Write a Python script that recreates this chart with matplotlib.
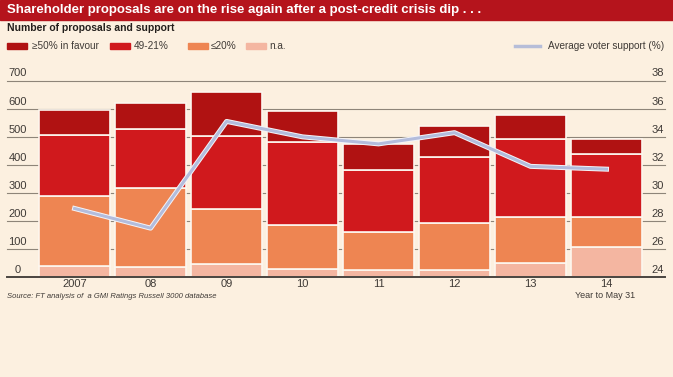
import matplotlib.pyplot as plt
import numpy as np
from matplotlib.patches import Rectangle
from matplotlib.lines import Line2D
import matplotlib.patheffects as pe

years = ["2007", "08", "09", "10", "11", "12", "13", "14"]
# segments, bottom to top
na = [41, 38, 46, 30, 26, 27, 52, 109]
le20 = [247, 281, 197, 157, 136, 167, 164, 107]
mid = [219, 209, 259, 293, 221, 235, 275, 224]
ge50 = [88, 92, 158, 112, 90, 109, 87, 52]
support = [28.9, 27.5, 35.1, 34.0, 33.5, 34.3, 31.9, 31.7]

legend_labels = ["≥50% in favour", "49-21%", "≤20%", "n.a."]
colors = ["#b01212", "#d0191d", "#ee8552", "#f4b6a1"]
bg = "#fcf0e0"
grid_c = "#8e8579"
text_c = "#3f3a36"

plt.rcParams["font.family"] = ["Liberation Sans", "DejaVu Sans"]

W, H = 673, 377
fig = plt.figure(figsize=(W / 100, H / 100), dpi=100, facecolor=bg)


def fx(px):
    return px / W


def fy(py):
    return 1 - py / H


# title bar
fig.patches.append(Rectangle((0, fy(20)), 1, 20 / H, transform=fig.transFigure,
                             color="#b5141c", zorder=0))
fig.text(fx(7), fy(10.5), "Shareholder proposals are on the rise again after a post-credit crisis dip . . .",
         color="white", fontsize=9.5, fontweight="bold", va="center", ha="left")
fig.text(fx(7), fy(28), "Number of proposals and support", color="#231f1c",
         fontsize=7.5, fontweight="bold", va="center", ha="left")

# legend
leg_x = [(7, 32), (110, 134), (188, 211), (246, 269)]
for (px, tx), lab, c in zip(leg_x, legend_labels, colors):
    fig.patches.append(Rectangle((fx(px), fy(49)), fx(20), 6 / H,
                                 transform=fig.transFigure, color=c))
    fig.text(fx(tx), fy(46), lab, color=text_c, fontsize=7.2, va="center", ha="left")
fig.lines.append(Line2D([fx(515), fx(540)], [fy(46), fy(46)], transform=fig.transFigure,
                        color="#b6bdd8", lw=2.5))
fig.text(fx(664), fy(46), "Average voter support (%)", color=text_c, fontsize=7.2,
         va="center", ha="right")

# main axes
ax = fig.add_axes([fx(7), fy(277.3), fx(665 - 7), (277.3 - 80.7) / H])
ax.set_facecolor("none")
x = np.arange(len(years))
bottom = np.zeros(len(years))
for vals, c in zip([na, le20, mid, ge50], colors[::-1]):
    ax.bar(x, vals, width=0.935, bottom=bottom, color=c, edgecolor="#fdf7ef",
           linewidth=1.2, zorder=2)
    bottom += np.array(vals)

ax.set_ylim(0, 700)
ax.set_xlim(-0.89, 7.77)
for v in range(100, 800, 100):
    ax.axhline(v, color=grid_c, lw=0.8, zorder=1, clip_on=False)
ax.axhline(0, color="#4a4540", lw=1.4, zorder=3, clip_on=False)
for s in ax.spines.values():
    s.set_visible(False)
ax.set_yticks([])
ax.set_xticks(x)
ax.set_xticklabels(years, fontsize=8, color=text_c)
ax.tick_params(axis="x", length=0, pad=1.5)

# left tick labels sit above the gridlines
for v in range(0, 800, 100):
    ax.text(fx(17.5 - 7) / fx(665 - 7), v + 8, str(v), transform=ax.get_yaxis_transform(),
            ha="center", va="bottom", fontsize=8, color=text_c)

ax2 = ax.twinx()
ax2.set_ylim(24, 38)
ax2.set_yticks([])
for s in ax2.spines.values():
    s.set_visible(False)
ax2.plot(x, support, color="#b3bcdc", lw=2.2, zorder=5,
         path_effects=[pe.Stroke(linewidth=3.6, foreground="#f4f4f8"), pe.Normal()])
for v in range(24, 40, 2):
    ax2.text(0.998, v + 0.16, str(v), transform=ax2.get_yaxis_transform(),
             ha="right", va="bottom", fontsize=8, color=text_c)

fig.text(fx(7), fy(296), "Source: FT analysis of  a GMI Ratings Russell 3000 database",
         fontsize=5.5, style="italic", color=text_c, va="center", ha="left")
fig.text(fx(605), fy(296), "Year to May 31", fontsize=6.5, color=text_c, va="center", ha="center")

fig.savefig("out.png", dpi=100, facecolor=bg)
